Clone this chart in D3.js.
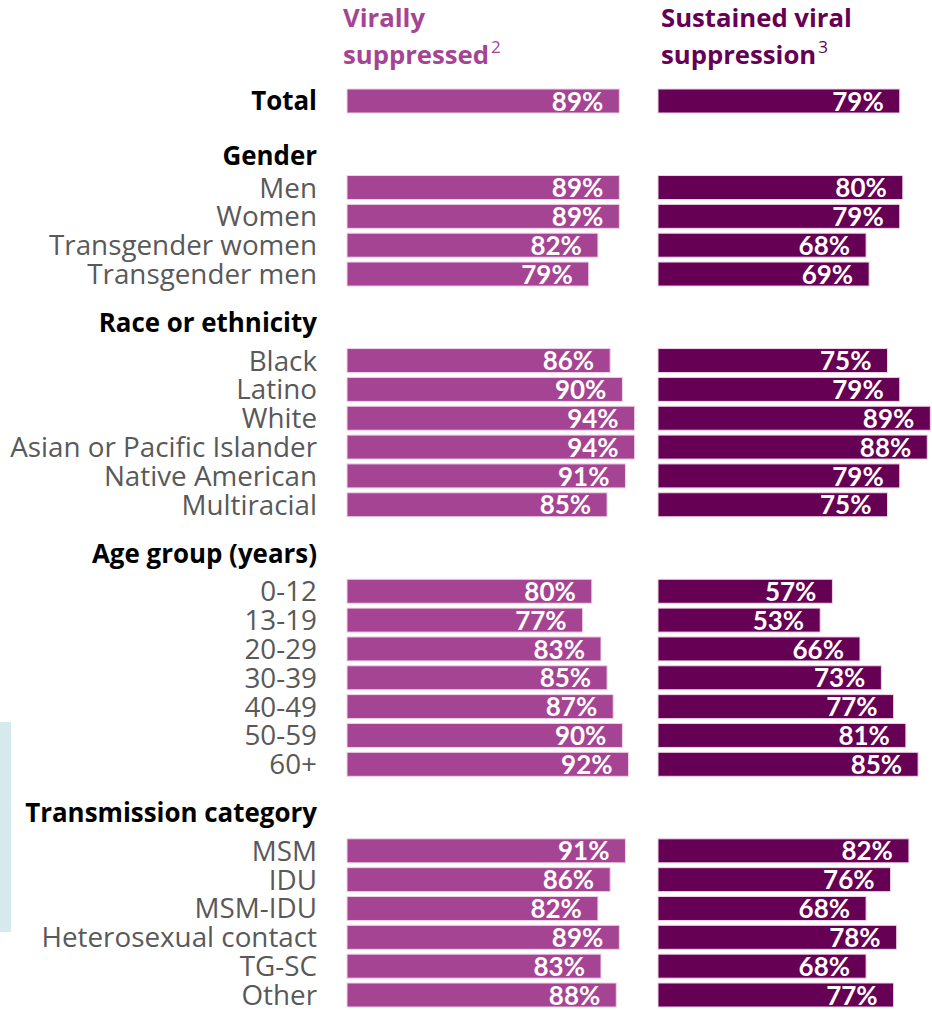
<!DOCTYPE html>
<html>
<head>
<meta charset="utf-8">
<script src="https://cdn.jsdelivr.net/npm/d3@7"></script>
<style>
  body { margin: 0; background: #fff; }
  svg { display: block; font-family: "Open Sans", Lato, sans-serif; }
</style>
</head>
<body>
<svg id="chart" width="932" height="1010"></svg>
<script>
// chart values
var categories = ["Total",
    "Men", "Women", "Transgender women", "Transgender men",
    "Black", "Latino", "White", "Asian or Pacific Islander", "Native American", "Multiracial",
    "0-12", "13-19", "20-29", "30-39", "40-49", "50-59", "60+",
    "MSM", "IDU", "MSM-IDU", "Heterosexual contact", "TG-SC", "Other"];
var groupOf = ["",
    "Gender", "Gender", "Gender", "Gender",
    "Race or ethnicity", "Race or ethnicity", "Race or ethnicity", "Race or ethnicity", "Race or ethnicity", "Race or ethnicity",
    "Age group (years)", "Age group (years)", "Age group (years)", "Age group (years)", "Age group (years)", "Age group (years)", "Age group (years)",
    "Transmission category", "Transmission category", "Transmission category", "Transmission category", "Transmission category", "Transmission category"];
var virallySuppressed = [89,
    89, 89, 82, 79,
    86, 90, 94, 94, 91, 85,
    80, 77, 83, 85, 87, 90, 92,
    91, 86, 82, 89, 83, 88];
var sustainedSuppression = [79,
    80, 79, 68, 69,
    75, 79, 89, 88, 79, 75,
    57, 53, 66, 73, 77, 81, 85,
    82, 76, 68, 78, 68, 77];
var seriesTitles = [["Virally", "suppressed", "2"], ["Sustained viral", "suppression", "3"]];

var leftColor = "#a64494",
    rightColor = "#660055",
    labelGray = "#595959";

var svg = d3.select("#chart");

// find the font size that makes a text a given width
function fitSize(str, weight, target, family) {
    var t = svg.append("text")
        .attr("font-size", 100)
        .attr("font-weight", weight)
        .style("font-family", family || null)
        .text(str);
    var w = t.node().getComputedTextLength();
    t.remove();
    return 100 * target / w;
}
var labelSize = fitSize("Asian or Pacific Islander", 400, 307);
var headSize = fitSize("Transmission category", 700, 292);
var titleSize = fitSize("Sustained viral", 700, 191);

// pale side panel at the left edge
svg.append("rect")
    .attr("x", 0).attr("y", 722)
    .attr("width", 11).attr("height", 210)
    .attr("fill", "#d6eaee");

// work out slot positions: every group starts 3 slots after the previous row
var slots = [];
var headers = [];
var slot = 0;
categories.forEach(function(c, i) {
    if (i > 0 && groupOf[i] !== groupOf[i - 1]) {
        slot += 3;
        headers.push({name: groupOf[i], slot: slot - (headers.length === 0 ? 1.1 : 1.32)});
    } else if (i > 0) {
        slot += 1;
    }
    slots.push(slot);
});

var y = d3.scaleLinear().domain([0, 31]).range([101, 995]);
var barH = 24;
var x = d3.scaleLinear().domain([0, 100]).range([0, 306]);
var labelRight = 317,
    leftX = 347,
    rightX = 658;

// row labels
svg.append("g").selectAll("text")
    .data(categories)
    .enter().append("text")
    .attr("x", labelRight)
    .attr("y", function(d, i) { return y(slots[i]); })
    .attr("dy", "0.36em")
    .attr("text-anchor", "end")
    .attr("font-size", function(d, i) { return i === 0 ? headSize : labelSize; })
    .attr("font-weight", function(d, i) { return i === 0 ? 700 : 400; })
    .attr("fill", function(d, i) { return i === 0 ? "#000" : labelGray; })
    .text(function(d) { return d; });

// group headers
svg.append("g").selectAll("text")
    .data(headers)
    .enter().append("text")
    .attr("x", labelRight)
    .attr("y", function(d) { return y(d.slot); })
    .attr("dy", "0.36em")
    .attr("text-anchor", "end")
    .attr("font-size", headSize)
    .attr("font-weight", 700)
    .attr("fill", "#000")
    .text(function(d) { return d.name; });

function drawSeries(values, x0, color) {
    var g = svg.append("g").attr("transform", "translate(" + x0 + ",0)");
    var node = g.selectAll(".barnode")
        .data(values)
        .enter().append("g")
        .attr("class", "barnode")
        .attr("transform", function(d, i) {
            return "translate(0," + (y(slots[i]) - barH / 2) + ")";
        });
    node.append("rect")
        .attr("width", function(d) { return x(d); })
        .attr("height", barH)
        .attr("fill", color)
        .attr("stroke", "#efd3e8")
        .attr("stroke-width", 1);
    node.append("text")
        .attr("x", function(d) { return x(d) - 16; })
        .attr("y", barH / 2)
        .attr("dy", "0.37em")
        .attr("text-anchor", "end")
        .attr("font-size", 26)
        .attr("font-weight", 700)
        .style("font-family", "Lato, sans-serif")
        .attr("fill", "#fff")
        .text(function(d) { return d + "%"; });
}
drawSeries(virallySuppressed, leftX, leftColor);
drawSeries(sustainedSuppression, rightX, rightColor);

// column titles
[leftX - 4, rightX + 3].forEach(function(tx, k) {
    var color = k === 0 ? leftColor : rightColor;
    var t = seriesTitles[k];
    svg.append("text")
        .attr("x", tx).attr("y", 27)
        .attr("font-size", titleSize).attr("font-weight", 700)
        .attr("fill", color)
        .text(t[0]);
    var line2 = svg.append("text")
        .attr("x", tx).attr("y", 64)
        .attr("font-size", titleSize).attr("font-weight", 700)
        .attr("fill", color);
    line2.append("tspan").text(t[1]);
    line2.append("tspan")
        .attr("dx", 2).attr("dy", -11)
        .attr("font-size", 17).attr("font-weight", 400)
        .text(t[2]);
});
</script>
</body>
</html>
